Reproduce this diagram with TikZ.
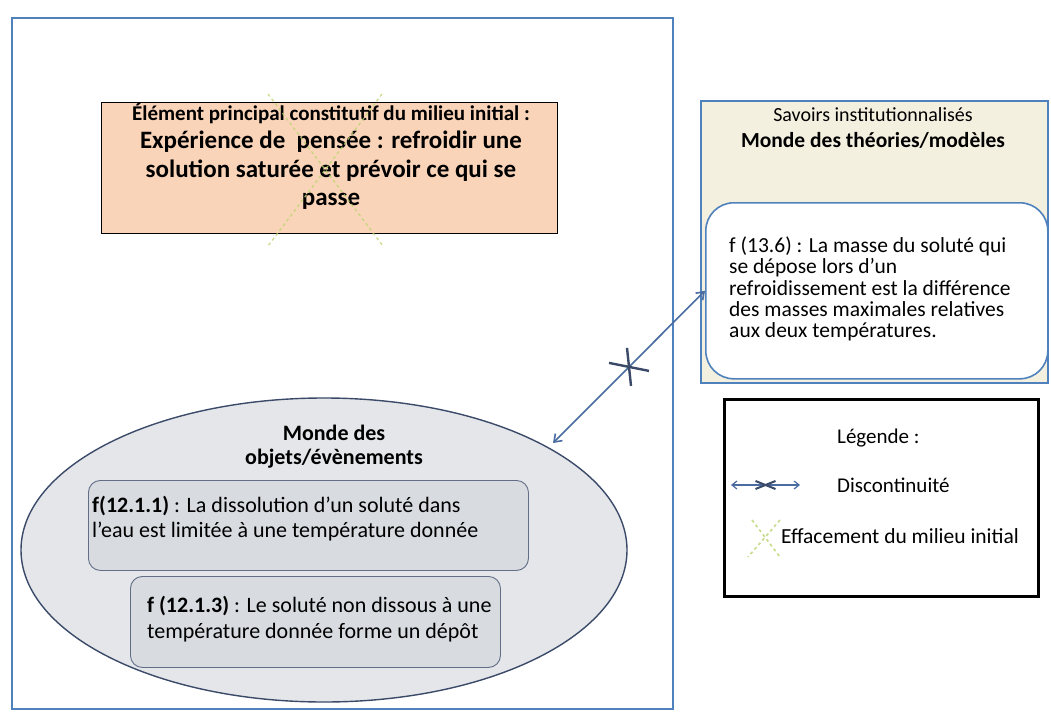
\documentclass[tikz,border=0pt]{standalone}
\usepackage{fontspec}
\setmainfont{Carlito}
\usepackage{xcolor}
\usetikzlibrary{positioning,arrows.meta,shapes.geometric}

\definecolor{frameblue}{RGB}{79,129,189}
\definecolor{peach}{RGB}{250,212,184}
\definecolor{beige}{RGB}{244,240,224}
\definecolor{linkblue}{RGB}{74,108,160}
\definecolor{slate}{RGB}{58,74,104}
\definecolor{fogray}{RGB}{228,230,234}
\definecolor{boxgray}{RGB}{216,219,224}
\definecolor{erasegreen}{RGB}{186,212,110}

\begin{document}
\begin{tikzpicture}[x=1pt, y=-1pt,
  frame/.style={draw=frameblue, line width=2pt, anchor=north west},
  element/.style={draw=black, line width=1.4pt, fill=peach, anchor=north west},
  theory/.style={draw=frameblue, line width=1.6pt, fill=beige, anchor=north west},
  statement/.style={draw=frameblue, line width=1.6pt, fill=white, rounded corners=28pt, anchor=north west},
  world/.style={ellipse, draw=slate, line width=1.4pt, fill=fogray},
  fact/.style={draw=slate!80, line width=0.9pt, fill=boxgray, rounded corners=12pt, anchor=north west},
  legendbox/.style={draw=black, line width=2.5pt, fill=white, anchor=north west},
  label/.style={inner sep=0pt, align=left, anchor=west},
  link/.style={{Straight Barb[length=7pt,width=10pt]}-{Straight Barb[length=7pt,width=10pt]}, draw=linkblue, line width=1.6pt},
  cutmark/.style={draw=slate, line width=2.4pt},
  erase/.style={draw=erasegreen, line width=1.3pt, dashed, opacity=0.8}
]
\useasboundingbox (0,0) rectangle (1051,722);

% milieu initial
\node[frame, minimum width=661pt, minimum height=691pt] (milieu) at (11,17) {};

\node[element, minimum width=456pt, minimum height=131pt] (element) at (101,102) {};
\node[inner sep=0pt, align=center, font=\bfseries\fontsize{25}{28.5}\selectfont] (elemtext) at (331,156)
  {{\fontsize{21}{18}\selectfont Élément principal constitutif du milieu initial :}\\
   Expérience de~~pensée : refroidir une\\solution saturée et prévoir ce qui se\\passe};
\draw[erase] (382,94) -- (268,246);
\draw[erase] (268,94) -- (383,246);

% monde des objets
\node[world, minimum width=606pt, minimum height=304pt] (objets) at (324,550) {};
\node[inner sep=0pt, align=center, font=\bfseries\fontsize{22}{24}\selectfont] (objtitle) at (334,447)
  {Monde des\\objets/évènements};
\node[fact, minimum width=440pt, minimum height=90pt] (fact1) at (88,480) {};
\node[label, font=\fontsize{22}{25}\selectfont] (fact1text) at (92,519)
  {\textbf{f(12.1.1)} : La dissolution d’un soluté dans\\l’eau est limitée à une température donnée};
\node[fact, minimum width=370pt, minimum height=91pt] (fact2) at (130,576) {};
\node[label, font=\fontsize{22}{25.5}\selectfont] (fact2text) at (147,619)
  {\textbf{f (12.1.3)} : Le soluté non dissous à une\\température donnée forme un dépôt};

% monde des theories
\node[theory, minimum width=347pt, minimum height=282pt] (theories) at (700,100) {};
\node[inner sep=0pt, align=center, font=\fontsize{20}{26}\selectfont] (theotitle) at (873,128)
  {Savoirs institutionnalisés\\\textbf{\fontsize{21.5}{26}\selectfont Monde des théories/modèles}};
\node[statement, minimum width=342pt, minimum height=176pt] (stmt) at (705,202) {};
\node[label, font=\fontsize{21.5}{21.3}\selectfont] (stmttext) at (729,289)
  {f (13.6) : La masse du soluté qui\\se dépose lors d’un\\refroidissement est la différence\\des masses maximales relatives\\aux deux températures.};

% discontinuite
\coordinate (linkstart) at (553,443);
\draw[link] (linkstart) -- (stmt.west) node[pos=0.5] (cut) {};
\draw[cutmark] ([shift={(-20,-4)}]cut.center) -- ([shift={(20,4)}]cut.center);
\draw[cutmark] ([shift={(-2,-19)}]cut.center) -- ([shift={(2,19)}]cut.center);

% legende
\node[legendbox, minimum width=314pt, minimum height=197pt] (legend) at (723,398) {};
\node[label, font=\fontsize{21}{22}\selectfont] (legtitle) at (837,438) {Légende :};
\coordinate (legA) at (731,485);
\coordinate (legB) at (800,485);
\draw[link, line width=1.2pt, {Straight Barb[length=5pt,width=8pt]}-{Straight Barb[length=5pt,width=8pt]}] (legA) -- (legB) node[pos=0.5] (legcut) {};
\draw[cutmark, line width=2pt] ([shift={(-10,-4)}]legcut.center) -- ([shift={(10,4)}]legcut.center);
\draw[cutmark, line width=2pt] ([shift={(-10,4)}]legcut.center) -- ([shift={(10,-4)}]legcut.center);
\node[label, font=\fontsize{21}{22}\selectfont] (legdisc) at (837,485) {Discontinuité};
\draw[erase, line width=1.6pt] (780,520) -- (748,557);
\draw[erase, line width=1.6pt] (752,520) -- (780,557);
\node[label, font=\fontsize{21.5}{22}\selectfont] (legerase) at (781,536) {Effacement du milieu initial};
\end{tikzpicture}
\end{document}
